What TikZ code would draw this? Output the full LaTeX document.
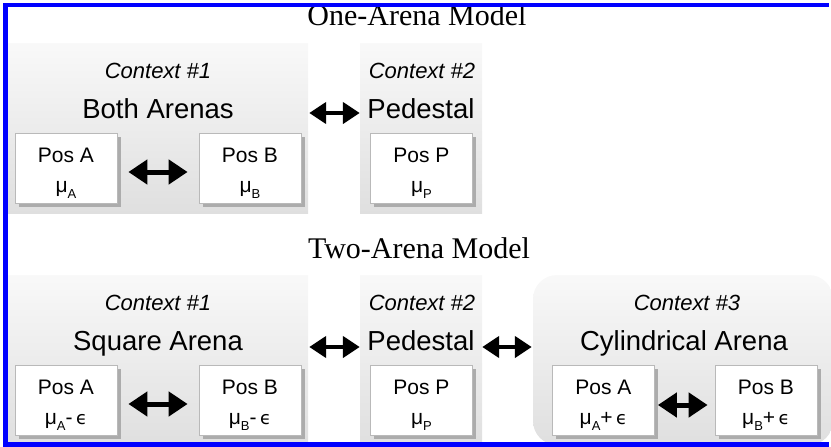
\documentclass[tikz,border=0pt]{standalone}
\usepackage{fontspec}
\setmainfont{Liberation Sans}
\newfontfamily\titlefont{Liberation Serif}
\newfontfamily\symfont{DejaVu Sans}
\usetikzlibrary{arrows.meta,shadows,fit}

\definecolor{framebl}{RGB}{0,0,255}

\tikzset{
  ctxbox/.style={draw=none, inner sep=0pt, top color=gray!5, bottom color=gray!25},
  posbox/.style={draw=gray!55, line width=0.8pt, fill=white, minimum width=102pt,
                 minimum height=70pt, inner sep=0pt,
                 drop shadow={shadow xshift=3.5pt, shadow yshift=-3.5pt, fill=gray!65, opacity=1}},
  ctxlabel/.style={anchor=base, inner sep=0pt, font=\fontsize{22}{22}\selectfont\itshape},
  ctxtitle/.style={anchor=base, inner sep=0pt, font=\fontsize{27.5}{27.5}\selectfont},
  postext/.style={anchor=base, inner sep=0pt, font=\fontsize{21}{21}\selectfont},
  modeltitle/.style={anchor=base, inner sep=0pt, font=\titlefont\fontsize{30}{30}\selectfont},
  bigarrow/.style={line width=5pt, {Triangle[length=19pt,width=24pt]}-{Triangle[length=19pt,width=24pt]}},
  ctxarrow/.style={line width=4.5pt, {Triangle[length=17pt,width=21pt]}-{Triangle[length=17pt,width=21pt]}},
}

% subscripted mean: \mmu{A}
\newcommand\mmu[1]{μ\raisebox{-6pt}{\fontsize{13}{13}\selectfont #1}}
% offset term
\newcommand\eps{{\symfont\fontsize{18}{18}\selectfont ϵ}}

% position box with two centred lines
\newcommand\posnode[5]{%
  \node[posbox] (#1) at (#2,#3) {};
  \node[postext] (#1-t) at (#2,#3-6) {#4};
  \node[postext] (#1-m) at (#2,#3+24) {#5};
}

\begin{document}
\begin{tikzpicture}[x=1pt,y=-1pt]
\useasboundingbox (0,0) rectangle (831,447);

% ---------------- One-Arena Model ----------------
\node[modeltitle] (t1) at (417,26) {One-Arena Model};

\node[ctxbox, fit={(8,43) (308,213)}] (a1) {};
\node[ctxbox, fit={(360,43) (482,213)}] (a2) {};

\node[ctxlabel] (a1-n) at (158,78) {Context \#1};
\node[ctxtitle] (a1-t) at (158,118) {Both Arenas};
\node[ctxlabel] (a2-n) at (422,78) {Context \#2};
\node[ctxtitle] (a2-t) at (421,118) {Pedestal};

\posnode{aA}{66}{168}{Pos A}{\mmu{A}}
\posnode{aB}{250}{168}{Pos B}{\mmu{B}}
\posnode{aP}{421.5}{168}{Pos P}{\mmu{P}}

\draw[bigarrow] ([xshift=11pt,yshift=-4pt]aA.east) -- ([xshift=-11pt,yshift=-4pt]aB.west);
\draw[ctxarrow] ([xshift=1pt,yshift=15pt]a1.east) -- ([yshift=15pt]a2.west);

% ---------------- Two-Arena Model ----------------
\node[modeltitle] (t2) at (419,258) {Two-Arena Model};

\node[ctxbox, fit={(8,275) (308,445)}] (b1) {};
\node[ctxbox, fit={(360,275) (482,445)}] (b2) {};
\node[ctxbox, rounded corners=24pt, fit={(533,275) (833,445)}] (b3) {};

\node[ctxlabel] (b1-n) at (158,310) {Context \#1};
\node[ctxtitle] (b1-t) at (158,350) {Square Arena};
\node[ctxlabel] (b2-n) at (422,310) {Context \#2};
\node[ctxtitle] (b2-t) at (421,350) {Pedestal};
\node[ctxlabel] (b3-n) at (687,310) {Context \#3};
\node[ctxtitle] (b3-t) at (684,350) {Cylindrical Arena};

\posnode{bA}{66}{400}{Pos A}{\mmu{A}-\,\eps}
\posnode{bB}{250}{400}{Pos B}{\mmu{B}-\,\eps}
\posnode{bP}{421.5}{400}{Pos P}{\mmu{P}}
\posnode{cA}{603.5}{400}{Pos A}{\mmu{A}+\,\eps}
\posnode{cB}{766}{400}{Pos B}{\mmu{B}+\,\eps}

\draw[bigarrow] ([xshift=11pt,yshift=-4pt]bA.east) -- ([xshift=-11pt,yshift=-4pt]bB.west);
\draw[bigarrow] ([xshift=3pt,yshift=-5pt]cA.east) -- ([xshift=-7pt,yshift=-5pt]cB.west);
\draw[ctxarrow] ([xshift=1pt,yshift=13pt]b1.east) -- ([yshift=13pt]b2.west);
\draw[ctxarrow] ([yshift=13pt]b2.east) -- ([xshift=-1pt,yshift=13pt]b3.west);

% ---------------- frame (left, top and bottom edges) ----------------
\fill[framebl] (3,3.3) rectangle (829,7.4);
\fill[framebl] (3,3.3) rectangle (8,447);
\fill[framebl] (3,441.8) rectangle (829,447);
\end{tikzpicture}
\end{document}
